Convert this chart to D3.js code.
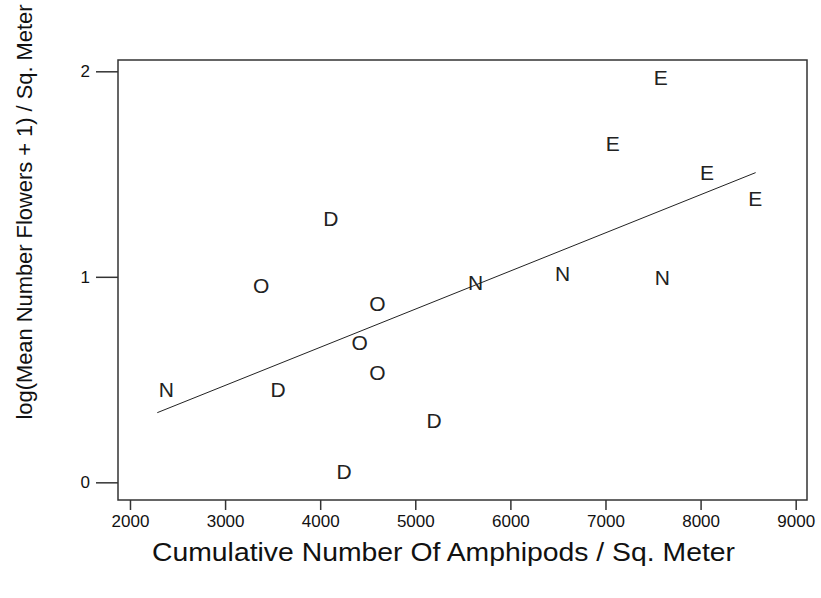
<!DOCTYPE html>
<html>
<head>
<meta charset="utf-8">
<script src="https://cdn.jsdelivr.net/npm/d3@7"></script>
<style>
    body { margin: 0; background: #fff; }
    text { font-family: "Liberation Sans", Arial, sans-serif; fill: #111; }
</style>
</head>
<body>
<div id="chart"></div>
<script>

// habitat code for each plot, amphipod density, log flowers
let codes = ["E", "E", "E", "E", "N", "N", "N", "N", "D", "D", "D", "D", "O", "O", "O", "O"];
let amphipods = [7581, 7076, 8067, 8575, 5633, 6550, 7599, 2381, 4111, 3558, 5199, 4252, 3380, 4603, 4416, 4603];
let logFlowers = [1.971, 1.650, 1.509, 1.379, 0.971, 1.015, 0.998, 0.452, 1.283, 0.450, 0.301, 0.054, 0.957, 0.871, 0.683, 0.536];

// fitted line, two ends
let fitX = [2287, 8579];
let fitY = [0.339, 1.507];

let xTicks = [2000, 3000, 4000, 5000, 6000, 7000, 8000, 9000];
let yTicks = [0, 1, 2];

let xTitle = "Cumulative Number Of Amphipods / Sq. Meter";
let yTitle = "log(Mean Number Flowers + 1) / Sq. Meter";

class LetterPlot {

    constructor(parentElement) {
        this.parentElement = parentElement;
        this.initVis();
    }

    initVis() {
        let vis = this;

        vis.margin = { top: 60, right: 14, bottom: 98, left: 118 };
        vis.width = 821 - vis.margin.left - vis.margin.right;
        vis.height = 598 - vis.margin.top - vis.margin.bottom;

        vis.svg = d3.select("#" + vis.parentElement).append("svg")
            .attr("width", 821)
            .attr("height", 598)
            .append("g")
            .attr("transform", "translate(" + vis.margin.left + "," + vis.margin.top + ")");

        // axis range is a little wider than the ticks
        vis.x = d3.scaleLinear()
            .domain([1874, 9119])
            .range([0, vis.width]);

        vis.y = d3.scaleLinear()
            .domain([-0.086, 2.055])
            .range([vis.height, 0]);

        vis.xAxis = d3.axisBottom(vis.x)
            .tickValues(xTicks)
            .tickSize(10)
            .tickPadding(5)
            .tickFormat(d3.format("d"));

        vis.yAxis = d3.axisLeft(vis.y)
            .tickValues(yTicks)
            .tickSize(22)
            .tickPadding(6)
            .tickFormat(d3.format("d"));

        vis.wrangleData();
    }

    wrangleData() {
        let vis = this;

        vis.displayData = codes.map((c, i) => ({
            code: c,
            amph: amphipods[i],
            flow: logFlowers[i]
        }));

        vis.fitData = fitX.map((x, i) => ({ amph: x, flow: fitY[i] }));

        vis.updateVis();
    }

    updateVis() {
        let vis = this;

        // frame
        vis.svg.append("rect")
            .attr("x", 0)
            .attr("y", 0)
            .attr("width", vis.width)
            .attr("height", vis.height)
            .attr("fill", "none")
            .attr("stroke", "#333")
            .attr("stroke-width", 1.5);

        let gx = vis.svg.append("g")
            .attr("class", "x-axis axis")
            .attr("transform", "translate(0," + vis.height + ")")
            .call(vis.xAxis);

        let gy = vis.svg.append("g")
            .attr("class", "y-axis axis")
            .call(vis.yAxis);

        [gx, gy].forEach(g => {
            g.select(".domain").remove();
            g.selectAll(".tick line").attr("stroke", "#333").attr("stroke-width", 1.5);
            g.selectAll(".tick text")
                .attr("fill", "#111")
                .style("font-family", "'Liberation Sans', Arial, sans-serif")
                .style("font-size", "17px");
        });

        // fitted line
        vis.line = d3.line()
            .x(d => vis.x(d.amph))
            .y(d => vis.y(d.flow));

        vis.svg.append("path")
            .datum(vis.fitData)
            .attr("fill", "none")
            .attr("stroke", "#222")
            .attr("stroke-width", 1)
            .attr("d", vis.line);

        // letters as points
        vis.svg.selectAll(".pt")
            .data(vis.displayData)
            .join("text")
            .attr("class", "pt")
            .attr("x", d => vis.x(d.amph))
            .attr("y", d => vis.y(d.flow))
            .attr("text-anchor", "middle")
            .attr("dy", "0.36em")
            .style("font-size", "21px")
            .style("fill", "#222")
            .text(d => d.code);

        // titles
        vis.svg.append("text")
            .attr("x", vis.width / 2 - 19)
            .attr("y", vis.height + 61)
            .attr("text-anchor", "middle")
            .attr("textLength", 583)
            .attr("lengthAdjust", "spacingAndGlyphs")
            .style("font-size", "25px")
            .text(xTitle);

        vis.svg.append("text")
            .attr("transform", "translate(" + (-vis.margin.left + 32) + "," + (212 - vis.margin.top) + ") rotate(-90)")
            .attr("text-anchor", "middle")
            .attr("textLength", 415)
            .attr("lengthAdjust", "spacingAndGlyphs")
            .style("font-size", "22px")
            .text(yTitle);
    }
}

new LetterPlot("chart");

</script>
</body>
</html>
